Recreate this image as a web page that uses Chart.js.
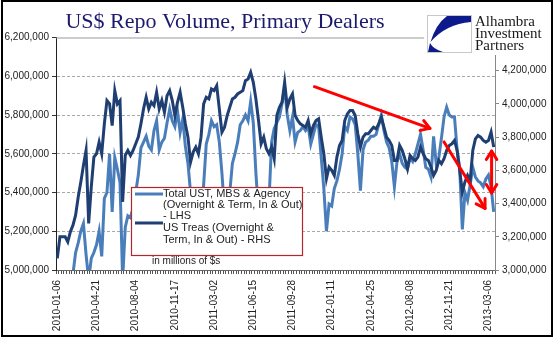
<!DOCTYPE html>
<html>
<head>
<meta charset="utf-8">
<script src="https://cdn.jsdelivr.net/npm/chart.js@4.4.1/dist/chart.umd.min.js"></script>
<style>
  html, body { margin: 0; padding: 0; background: #fff; }
  canvas { display: block; }
</style>
</head>
<body>
<canvas id="myChart" width="554" height="341"></canvas>
<script>
// setup
const weekCount = 168;
const weeks = [];
for (let i = 0; i < weekCount; i++) {
  const d = new Date(Date.UTC(2010, 0, 6 + 7 * i));
  weeks.push(d.toISOString().slice(0, 10));
}

// Total UST, MBS & Agency - left axis
const totalLhs = [
  4900000, 4880000, 4920000, 4900000, 4930000, 4950000, 4980000, 5090000, 5140000, 5200000,
  5240000, 5080000, 4950000, 5060000, 5090000, 5130000, 5200000, 5070000, 5370000, 5400000,
  5600000, 5300000, 5580000, 5520000, 5450000, 4950000, 5220000, 5280000, 5270000, 5320000,
  5400000, 5490000, 5630000, 5660000, 5690000, 5640000, 5620000, 5720000, 5770000, 5620000,
  5660000, 5680000, 5760000, 5830000, 5770000, 5740000, 5820000, 5710000, 5780000, 5640000,
  5550000, 5400000, 5250000, 5220000, 5200000, 5280000, 5440000, 5650000, 5700000, 5770000,
  5740000, 5750000, 5660000, 5500000, 5300000, 5220000, 5400000, 5550000, 5600000, 5660000,
  5750000, 5770000, 5800000, 5770000, 5870000, 5760000, 5500000, 5300000, 5220000, 5200000,
  5230000, 5350000, 5660000, 5730000, 5760000, 5790000, 5860000, 5940000, 5800000, 5720000,
  5790000, 5660000, 5710000, 5720000, 5740000, 5720000, 5740000, 5650000, 5700000, 5750000,
  5740000, 5580000, 5420000, 5200000, 5340000, 5330000, 5420000, 5460000, 5520000, 5600000,
  5740000, 5720000, 5790000, 5780000, 5750000, 5600000, 5410000, 5620000, 5660000, 5670000,
  5690000, 5690000, 5700000, 5750000, 5800000, 5720000, 5660000, 5630000, 5560000, 5430000,
  5560000, 5600000, 5550000, 5530000, 5520000, 5580000, 5560000, 5600000, 5650000, 5700000,
  5620000, 5530000, 5520000, 5480000, 5690000, 5550000, 5580000, 5680000, 5790000, 5840000,
  5800000, 5790000, 5790000, 5620000, 5520000, 5210000, 5400000, 5360000, 5440000, 5530000,
  5480000, 5460000, 5450000, 5430000, 5470000, 5490000, 5430000, 5300000
];

// US Treas - right axis
const treasRhs = [
  3070000, 3200000, 3200000, 3200000, 3170000, 3230000, 3270000, 3330000, 3440000, 3530000,
  3630000, 3720000, 3280000, 3500000, 3680000, 3700000, 3770000, 3700000, 3880000, 4020000,
  4000000, 3870000, 4080000, 4000000, 4020000, 3410000, 3690000, 3720000, 3690000, 3720000,
  3760000, 3800000, 3880000, 3970000, 4040000, 3970000, 4010000, 3990000, 4070000, 3970000,
  4020000, 3950000, 4050000, 4080000, 4020000, 3930000, 4010000, 4070000, 3980000, 3880000,
  3800000, 3650000, 3710000, 3740000, 3700000, 3800000, 4000000, 4040000, 4030000, 4090000,
  4080000, 4110000, 3970000, 3830000, 3860000, 3930000, 3980000, 4030000, 4040000, 4060000,
  4070000, 4080000, 4140000, 4150000, 4190000, 4130000, 4030000, 3900000, 3760000, 3800000,
  3730000, 3700000, 3740000, 3670000, 3930000, 3980000, 4010000, 4130000, 3980000, 4030000,
  4060000, 3930000, 3900000, 3880000, 3870000, 3860000, 3900000, 3820000, 3870000, 3900000,
  3910000, 3800000, 3700000, 3550000, 3620000, 3600000, 3570000, 3680000, 3750000, 3780000,
  3900000, 3940000, 3960000, 3960000, 3930000, 3820000, 3740000, 3800000, 3820000, 3820000,
  3840000, 3860000, 3850000, 3880000, 3920000, 3860000, 3800000, 3780000, 3750000, 3660000,
  3660000, 3750000, 3720000, 3670000, 3610000, 3690000, 3670000, 3660000, 3680000, 3740000,
  3700000, 3670000, 3660000, 3620000, 3570000, 3600000, 3660000, 3640000, 3670000, 3720000,
  3750000, 3760000, 3780000, 3720000, 3600000, 3470000, 3530000, 3570000, 3540000, 3720000,
  3790000, 3810000, 3800000, 3780000, 3770000, 3780000, 3830000, 3740000
];

const legendLines = [
  ['Total UST, MBS & Agency', '(Overnight & Term, In & Out)', '- LHS'],
  ['US Treas (Overnight &', 'Term, In & Out) - RHS']
];

// red markup arrows: [week index, LHS value]
const trendArrows = [
  { from: [98.4, 5946000], to: [142.6, 5731000] },
  { from: [148, 5661000], to: [163.7, 5318000] }
];
const rangeArrow = { at: 166.2, top: 5614000, bottom: 5397000 };

const lightBlue = '#4a7ebb';
const darkBlue = '#1f3f73';
const fmt = v => Math.round(v).toLocaleString('en-US');

function headAt(ctx, x1, y1, x2, y2) {
  const a = Math.atan2(y2 - y1, x2 - x1);
  const len = 10, spread = 0.55;
  ctx.beginPath();
  ctx.moveTo(x2 - len * Math.cos(a - spread), y2 - len * Math.sin(a - spread));
  ctx.lineTo(x2, y2);
  ctx.lineTo(x2 - len * Math.cos(a + spread), y2 - len * Math.sin(a + spread));
  ctx.stroke();
}

const decorations = {
  id: 'decorations',
  beforeDraw(chart) {
    const ctx = chart.ctx;
    ctx.save();
    ctx.fillStyle = '#fff';
    ctx.fillRect(0, 0, chart.width, chart.height);
    ctx.restore();
  },
  afterDatasetsDraw(chart) {
    const { ctx, chartArea: { top, left, right } } = chart;
    const xs = chart.scales.x, ys = chart.scales.y;
    ctx.save();
    // plot area top edge
    ctx.strokeStyle = '#999';
    ctx.lineWidth = 1;
    ctx.beginPath();
    ctx.moveTo(left, top + 0.5);
    ctx.lineTo(right, top + 0.5);
    ctx.stroke();

    // legend box
    ctx.fillStyle = '#fff';
    ctx.fillRect(131.5, 187.5, 171, 68);
    ctx.strokeStyle = '#b3262b';
    ctx.lineWidth = 1.2;
    ctx.strokeRect(131.5, 187.5, 171, 68);
    ctx.lineWidth = 3;
    ctx.strokeStyle = lightBlue;
    ctx.beginPath(); ctx.moveTo(135, 194); ctx.lineTo(163, 194); ctx.stroke();
    ctx.strokeStyle = darkBlue;
    ctx.beginPath(); ctx.moveTo(135, 223); ctx.lineTo(163, 223); ctx.stroke();
    ctx.fillStyle = '#222';
    ctx.font = '11px "Liberation Sans", Arial, sans-serif';
    ctx.textBaseline = 'middle';
    ctx.textAlign = 'left';
    [194, 205, 215.5].forEach((y, i) => ctx.fillText(legendLines[0][i], 163, y));
    [227.5, 239.5].forEach((y, i) => ctx.fillText(legendLines[1][i], 163, y));
    ctx.font = '10px "Liberation Sans", Arial, sans-serif';
    ctx.fillText('in millions of $s', 152, 261);

    // arrows
    ctx.strokeStyle = '#ff0000';
    ctx.lineWidth = 3;
    ctx.lineCap = 'round';
    ctx.lineJoin = 'round';
    trendArrows.forEach(a => {
      const x1 = xs.getPixelForValue(a.from[0]), y1 = ys.getPixelForValue(a.from[1]);
      const x2 = xs.getPixelForValue(a.to[0]), y2 = ys.getPixelForValue(a.to[1]);
      ctx.beginPath(); ctx.moveTo(x1, y1); ctx.lineTo(x2, y2); ctx.stroke();
      headAt(ctx, x1, y1, x2, y2);
    });
    const rx = xs.getPixelForValue(rangeArrow.at);
    const ry1 = ys.getPixelForValue(rangeArrow.top), ry2 = ys.getPixelForValue(rangeArrow.bottom);
    ctx.beginPath(); ctx.moveTo(rx, ry1); ctx.lineTo(rx, ry2); ctx.stroke();
    headAt(ctx, rx, ry2, rx, ry1);
    headAt(ctx, rx, ry1, rx, ry2);
    ctx.restore();
  },
  afterDraw(chart) {
    const ctx = chart.ctx;
    ctx.save();
    // logo panel
    ctx.fillStyle = '#fff';
    ctx.fillRect(424, 3, 127, 52);
    ctx.strokeStyle = '#c8c8c8';
    ctx.lineWidth = 1;
    ctx.strokeRect(427.5, 15.5, 44, 37);
    ctx.fillStyle = '#0c1a8c';
    ctx.beginPath();
    ctx.moveTo(471, 16);
    ctx.lineTo(447, 16);
    ctx.quadraticCurveTo(436, 24, 430.5, 42);
    ctx.quadraticCurveTo(446, 24, 471, 22);
    ctx.closePath();
    ctx.fill();
    ctx.beginPath();
    ctx.moveTo(428, 52);
    ctx.lineTo(443, 52);
    ctx.quadraticCurveTo(433, 49, 430, 43);
    ctx.closePath();
    ctx.fill();
    ctx.fillStyle = '#1a1a1a';
    ctx.font = '15px "Liberation Serif", "Times New Roman", serif';
    ctx.textAlign = 'left';
    ctx.textBaseline = 'alphabetic';
    ctx.fillText('Alhambra', 475, 26);
    ctx.fillText('Investment', 475, 38);
    ctx.fillText('Partners', 475, 50);

    // title
    ctx.fillStyle = '#1c1a6c';
    ctx.font = '22px "Liberation Serif", "Times New Roman", serif';
    ctx.textAlign = 'center';
    ctx.fillText('US$ Repo Volume, Primary Dealers', 225, 28);

    // outer frame
    ctx.strokeStyle = '#000';
    ctx.lineWidth = 2;
    ctx.strokeRect(2, 1, 550, 335);
    ctx.restore();
  }
};

const data = {
  labels: weeks,
  datasets: [
    {
      label: legendLines[0].join(' '),
      data: totalLhs,
      borderColor: lightBlue,
      yAxisID: 'y',
      order: 2
    },
    {
      label: legendLines[1].join(' '),
      data: treasRhs,
      borderColor: darkBlue,
      yAxisID: 'y1',
      order: 1
    }
  ]
};

const tickFont = { family: '"Liberation Sans", Arial, sans-serif', size: 10 };

const config = {
  type: 'line',
  data,
  options: {
    responsive: false,
    animation: false,
    devicePixelRatio: 1,
    layout: { padding: { top: 37.5, left: 0, right: 0, bottom: 0 } },
    elements: {
      point: { radius: 0 },
      line: { borderWidth: 3, tension: 0, fill: false }
    },
    datasets: { line: { clip: 0 } },
    plugins: {
      legend: { display: false },
      tooltip: { enabled: false },
      title: { display: false }
    },
    scales: {
      x: {
        type: 'category',
        offset: true,
        afterFit(scale) { scale.height = 71; },
        grid: {
          drawOnChartArea: false,
          drawTicks: true,
          tickLength: 4,
          tickColor: '#555',
          offset: true
        },
        border: { color: '#666' },
        ticks: {
          autoSkip: false,
          minRotation: 90,
          maxRotation: 90,
          padding: 6,
          color: '#222',
          font: tickFont,
          callback(value, index) { return index % 15 === 0 ? weeks[index] : ''; }
        }
      },
      y: {
        position: 'left',
        min: 5000000,
        max: 6200000,
        afterFit(scale) { scale.width = 56; },
        grid: {
          color: ctx => (ctx.tick && (ctx.tick.value === 5000000 || ctx.tick.value === 6200000)) ? 'rgba(0,0,0,0)' : '#a8a8a8',
          tickColor: '#333',
          tickLength: 4
        },
        border: { color: '#222', dash: [3, 2] },
        ticks: { stepSize: 200000, padding: 3, color: '#222', font: tickFont, callback: v => fmt(v) }
      },
      y1: {
        position: 'right',
        min: 3000000,
        max: 4400000,
        afterFit(scale) { scale.width = 59; },
        grid: { drawOnChartArea: false, tickColor: '#888', tickLength: 4 },
        border: { color: '#888' },
        ticks: { stepSize: 200000, padding: 3, color: '#222', font: tickFont, callback: v => fmt(v) }
      }
    }
  },
  plugins: [decorations]
};

// render init block
const myChart = new Chart(document.getElementById('myChart'), config);
</script>
</body>
</html>
